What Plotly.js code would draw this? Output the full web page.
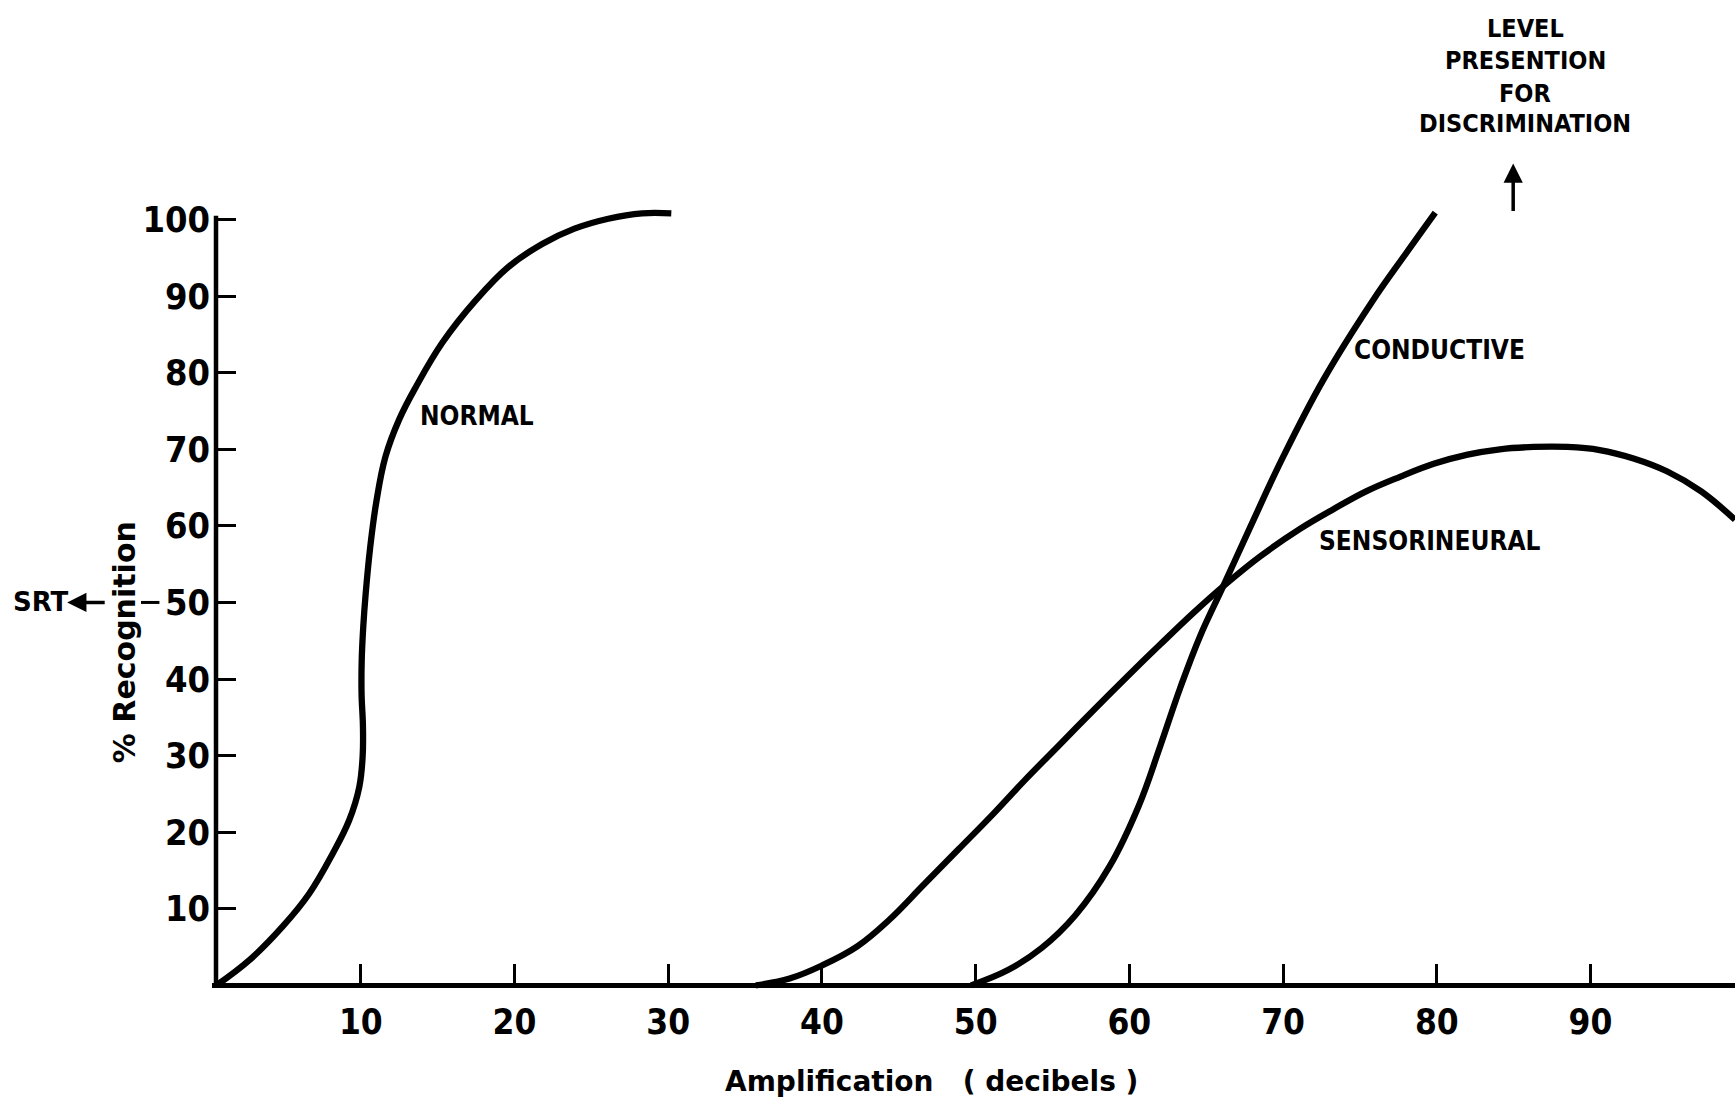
<!DOCTYPE html>
<html>
<head>
<meta charset="utf-8">
<script src="https://cdn.plot.ly/plotly-3.0.1.min.js"></script>
<style>
  html, body { margin: 0; padding: 0; background: #fff; }
  #chart { width: 1735px; height: 1101px; }
</style>
</head>
<body>
<div id="chart"></div>
<script>
// ---- data ----
const normalX = [0.6, 2.75, 4.92, 6.65, 8.17, 9.25, 9.9, 10.12, 10.14, 10.05, 10.06, 10.16, 10.32, 10.6, 11.0, 11.6, 12.5, 13.6, 15.3, 17.5, 19.6, 21.8, 23.9, 26.1, 28.3, 30.2];
const normalY = [0, 3.3, 7.7, 12.0, 17.2, 21.6, 25.9, 29.9, 33.8, 38.1, 42.5, 46.8, 51.2, 57.0, 63.0, 69.0, 73.9, 78.2, 83.9, 89.5, 93.8, 96.8, 98.8, 100.1, 100.8, 100.8];

const sensX = [35.7, 37.9, 40.0, 42.3, 44.4, 46.6, 48.9, 51.1, 53.2, 55.4, 57.7, 59.85, 62.0, 64.2, 66.1, 68.5, 71.1, 73.3, 75.4, 77.6, 79.8, 82.0, 84.1, 86.3, 88.5, 90.6, 92.8, 95.0, 97.2, 99.4];
const sensY = [0, 0.9, 2.6, 5.1, 8.6, 13.1, 17.8, 22.3, 26.8, 31.3, 36.0, 40.3, 44.5, 48.7, 52.1, 56.0, 59.6, 62.2, 64.5, 66.4, 68.1, 69.3, 70.0, 70.3, 70.3, 69.9, 68.8, 67.1, 64.5, 60.8];

const condX = [49.7, 52.1, 54.3, 56.5, 58.7, 60.6, 62.0, 63.3, 64.6, 66.1, 67.9, 70.0, 72.6, 75.8, 77.9, 79.9];
const condY = [0, 2.0, 4.9, 9.2, 15.5, 23.4, 31.2, 38.8, 45.6, 52.1, 60.0, 69.0, 79.0, 89.3, 95.3, 100.9];

const xTickVals = [10, 20, 30, 40, 50, 60, 70, 80, 90];
const xTickText = ['10', '20', '30', '40', '50', '60', '70', '80', '90'];
const yTickVals = [10, 20, 30, 40, 50, 60, 70, 80, 90, 100];
const yTickText = ['10', '20', '30', '40', '50', '60', '70', '80', '90', '100'];

const curveNames = ['NORMAL', 'SENSORINEURAL', 'CONDUCTIVE'];
const levelLines = ['LEVEL', 'PRESENTION', 'FOR', 'DISCRIMINATION'];
const yTitle = '% Recognition';
const xTitle = 'Amplification&nbsp;&nbsp;&nbsp;( decibels )';
const srtText = 'SRT';

// ---- axes ranges and helpers (data units -> paper fraction) ----
const X_RANGE = [0.32, 99.4];
const Y_RANGE = [-0.6, 101.5];
const px = v => (v - X_RANGE[0]) / (X_RANGE[1] - X_RANGE[0]);
const py = v => (v - Y_RANGE[0]) / (Y_RANGE[1] - Y_RANGE[0]);

// ---- styling ----
const INK = '#000000';
const NARROW = 'DejaVu Sans Condensed, Liberation Sans Narrow, sans-serif';
const WIDE = 'DejaVu Sans, Liberation Sans, sans-serif';
const lineStyle = { color: INK, width: 6.3, shape: 'spline', smoothing: 1.1 };

const traces = [
  { x: normalX, y: normalY, name: curveNames[0], type: 'scatter', mode: 'lines', line: lineStyle, hoverinfo: 'skip' },
  { x: sensX, y: sensY, name: curveNames[1], type: 'scatter', mode: 'lines', line: lineStyle, hoverinfo: 'skip' },
  { x: condX, y: condY, name: curveNames[2], type: 'scatter', mode: 'lines', line: lineStyle, hoverinfo: 'skip' }
];

const labelFont = { family: NARROW, size: 26, color: INK, weight: 'bold' };
const levelFont = { family: NARROW, size: 25, color: INK, weight: 'bold' };

const ann = (text, x, y, opts) => Object.assign({ text: text, x: px(x), y: py(y), xref: 'paper', yref: 'paper', showarrow: false }, opts);

const annotations = [
  ann(curveNames[0], 13.7, 74.4, { xanchor: 'left', yanchor: 'middle', font: labelFont }),
  ann(curveNames[2], 74.5, 82.9, { xanchor: 'left', yanchor: 'middle', font: labelFont }),
  ann(curveNames[1], 72.2, 58.0, { xanchor: 'left', yanchor: 'middle', font: labelFont }),
  ann(levelLines[0], 85.75, 125.0, { xanchor: 'center', yanchor: 'middle', font: levelFont }),
  ann(levelLines[1], 85.75, 120.7, { xanchor: 'center', yanchor: 'middle', font: levelFont }),
  ann(levelLines[2], 85.75, 116.4, { xanchor: 'center', yanchor: 'middle', font: levelFont }),
  ann(levelLines[3], 85.75, 112.5, { xanchor: 'center', yanchor: 'middle', font: levelFont }),
  // up arrow under the level text
  ann('', 84.97, 107.3, { showarrow: true, ax: 0, ay: 49, arrowhead: 2, arrowsize: 1.1, arrowwidth: 3.5, arrowcolor: INK }),
  // SRT with arrow pointing to it
  ann(srtText, -10.8, 50, { xanchor: 'center', yanchor: 'middle', font: { family: WIDE, size: 26, color: INK, weight: 'bold' } }),
  ann('', -9.1, 50, { showarrow: true, ax: 39, ay: 0, arrowhead: 2, arrowsize: 1.1, arrowwidth: 3.5, arrowcolor: INK }),
  // axis titles
  ann(yTitle, -5.41, 44.8, { textangle: -90, xanchor: 'center', yanchor: 'middle', font: { family: WIDE, size: 30, color: INK, weight: 'bold' } }),
  ann(xTitle, 47.1, -12.5, { xanchor: 'center', yanchor: 'middle', font: { family: WIDE, size: 28, color: INK, weight: 'bold' } })
];

const shapes = [
  // vertical axis line (stops at the 100 tick)
  { type: 'line', xref: 'x', yref: 'y', x0: 0.58, x1: 0.58, y0: 0, y1: 100.5, line: { color: INK, width: 4.5 } },
  // short dash between the axis title and the 50 label
  { type: 'line', xref: 'paper', yref: 'paper', x0: px(-4.3), x1: px(-3.1), y0: py(50), y1: py(50), line: { color: INK, width: 3 } }
];

const layout = {
  width: 1735,
  height: 1101,
  margin: { l: 212, r: 0, t: 208, b: 111, pad: 0 },
  paper_bgcolor: '#ffffff',
  plot_bgcolor: '#ffffff',
  showlegend: false,
  xaxis: {
    range: X_RANGE,
    anchor: 'free',
    position: py(0),
    showline: true, linecolor: INK, linewidth: 4.5,
    showgrid: false, zeroline: false,
    ticks: 'inside', ticklen: 19, tickwidth: 3, tickcolor: INK,
    tickmode: 'array', tickvals: xTickVals, ticktext: xTickText,
    tickfont: { family: NARROW, size: 35, color: INK, weight: 'bold' },
    ticklabelstandoff: 4,
    fixedrange: true
  },
  yaxis: {
    range: Y_RANGE,
    anchor: 'free',
    position: px(0.58),
    showline: false,
    showgrid: false, zeroline: false,
    ticks: 'inside', ticklen: 19, tickwidth: 3, tickcolor: INK,
    tickmode: 'array', tickvals: yTickVals, ticktext: yTickText,
    tickfont: { family: NARROW, size: 36, color: INK, weight: 'bold' },
    ticklabelstandoff: 6,
    fixedrange: true
  },
  annotations: annotations,
  shapes: shapes
};

Plotly.newPlot('chart', traces, layout, { displayModeBar: false, staticPlot: true });
</script>
</body>
</html>
